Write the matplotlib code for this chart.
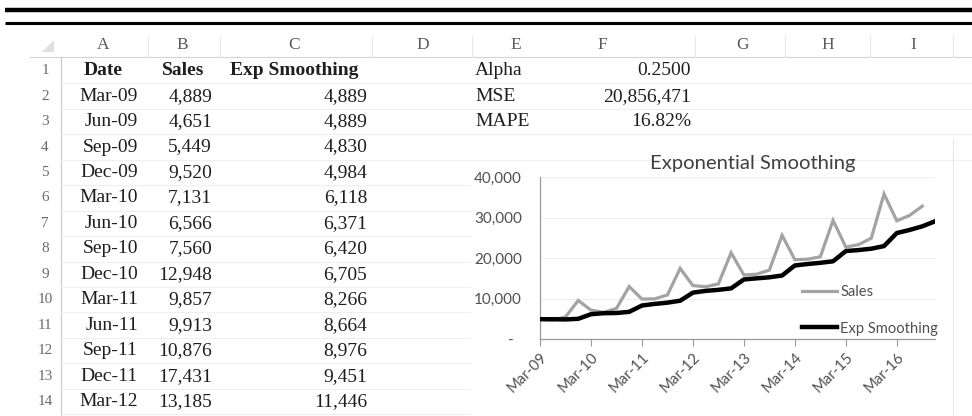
import matplotlib
matplotlib.use("Agg")
import matplotlib.pyplot as plt
from matplotlib.patches import Polygon

# quarterly sales with the exponential smoothing forecast (alpha = 0.25)
dates = ['Mar-09', 'Jun-09', 'Sep-09', 'Dec-09', 'Mar-10', 'Jun-10', 'Sep-10', 'Dec-10',
         'Mar-11', 'Jun-11', 'Sep-11', 'Dec-11', 'Mar-12', 'Jun-12', 'Sep-12', 'Dec-12',
         'Mar-13', 'Jun-13', 'Sep-13', 'Dec-13', 'Mar-14', 'Jun-14', 'Sep-14', 'Dec-14',
         'Mar-15', 'Jun-15', 'Sep-15', 'Dec-15', 'Mar-16', 'Jun-16', 'Sep-16', 'Dec-16']
sales = [4889, 4651, 5449, 9520, 7131, 6566, 7560, 12948,
         9857, 9913, 10876, 17431, 13185, 12900, 13600, 21300,
         15800, 16000, 17000, 25600, 19600, 19700, 20300, 29300,
         22700, 23300, 24900, 35800, 29200, 30500, 32800]
exp_smoothing = [4889, 4889, 4830, 4984, 6118, 6371, 6420, 6705,
                 8266, 8664, 8976, 9451, 11446, 11881, 12136, 12502,
                 14701, 14976, 15232, 15674, 18156, 18517, 18812, 19184,
                 21713, 21960, 22295, 22946, 26160, 26920, 27815, 29061]

alpha = 0.25
mse = 20856471
mape = 16.82

columns = ['A', 'B', 'C', 'D', 'E', 'F', 'G', 'H', 'I']
col_centers = [103, 182, 294, 423, 516, 602, 742, 828, 913]
n_table_rows = 13

serif = 'Liberation Serif'
sans = 'Lato'
ink = '#1e1e1e'
chart_ink = '#505050'
cell_size = 14

fig = plt.figure(figsize=(9.72, 4.16), dpi=100)

# sheet layer in pixel coordinates
bg = fig.add_axes([0, 0, 1, 1])
bg.set_xlim(0, 972)
bg.set_ylim(416, 0)
bg.axis('off')

bg.plot([5, 972], [9.5, 9.5], color='black', lw=3.2, solid_capstyle='butt')
bg.plot([5, 972], [22.5, 22.5], color='black', lw=2.2, solid_capstyle='butt')

row_y = [70.7 + i * 25.45 for i in range(n_table_rows + 1)]

# faint cell grid
bg.plot([30, 972], [57, 57], color='#d4d4d4', lw=0.8)
bg.plot([61, 61], [57, 416], color='#c8c8c8', lw=0.8)
for y in row_y:
    bg.plot([61, 470], [y + 12.7, y + 12.7], color='#efefef', lw=0.8)
for y in row_y[:4]:
    bg.plot([470, 972], [y + 12.7, y + 12.7], color='#efefef', lw=0.8)
for x in [148, 220, 372, 472, 695, 785, 870, 953]:
    bg.plot([x, x], [36, 57], color='#e8e8e8', lw=0.8)
bg.plot([953, 953], [140, 416], color='#e6e6e6', lw=0.8)
bg.add_patch(Polygon([[42, 52], [54, 40], [54, 52]], closed=True,
                     color='#e0e0e0', lw=0))

for letter, cx in zip(columns, col_centers):
    bg.text(cx, 45, letter, family=serif, fontsize=12.5, color='#5a5a5a',
            ha='center', va='center')
for i, y in enumerate(row_y):
    bg.text(45, y, str(i + 1), family=serif, fontsize=11, color='#6a6a6a',
            ha='center', va='center')

bg.text(103, row_y[0], 'Date', family=serif, fontsize=cell_size, weight='bold',
        color=ink, ha='center', va='center')
bg.text(183, row_y[0], 'Sales', family=serif, fontsize=cell_size, weight='bold',
        color=ink, ha='center', va='center')
bg.text(294, row_y[0], 'Exp Smoothing', family=serif, fontsize=cell_size,
        weight='bold', color=ink, ha='center', va='center')

for i in range(n_table_rows):
    y = row_y[i + 1]
    bg.text(138, y, dates[i], family=serif, fontsize=cell_size, color=ink,
            ha='right', va='center')
    bg.text(212, y, f'{sales[i]:,}', family=serif, fontsize=cell_size, color=ink,
            ha='right', va='center')
    bg.text(367, y, f'{exp_smoothing[i]:,}', family=serif, fontsize=cell_size,
            color=ink, ha='right', va='center')

stats = [('Alpha', f'{alpha:.4f}'), ('MSE', f'{mse:,}'), ('MAPE', f'{mape:.2f}%')]
for (name, val), y in zip(stats, row_y[:3]):
    bg.text(475, y, name, family=serif, fontsize=cell_size, color=ink,
            ha='left', va='center')
    bg.text(691, y, val, family=serif, fontsize=cell_size, color=ink,
            ha='right', va='center')

# embedded line chart
ax = fig.add_axes([540 / 972, 1 - 339 / 416, (935 - 540) / 972, (339 - 177) / 416])
ax.set_facecolor('none')
ax.plot(range(len(sales)), sales, color='#a3a3a3', lw=2.3, label='Sales',
        solid_joinstyle='miter', zorder=2)
ax.plot(range(len(exp_smoothing)), exp_smoothing, color='black', lw=3.2,
        label='Exp Smoothing', solid_joinstyle='round', zorder=3)
ax.set_xlim(0, len(exp_smoothing) - 1)
ax.set_ylim(0, 40000)

ax.set_yticks([0, 10000, 20000, 30000, 40000])
ax.set_yticklabels(['-  ', '10,000', '20,000', '30,000', '40,000'])
ax.tick_params(axis='y', length=0, pad=13, labelsize=11, labelcolor=chart_ink)
for t in ax.get_yticklabels():
    t.set_family(sans)
ax.yaxis.grid(True, color='#eeeeee', lw=0.8)
ax.set_axisbelow(True)

tick_pos = list(range(0, len(exp_smoothing), 4))
ax.set_xticks(tick_pos)
ax.set_xticklabels([dates[i] for i in tick_pos], rotation=45, ha='right',
                   va='top', rotation_mode='anchor', family=sans)
ax.tick_params(axis='x', length=5, width=0.8, color='#9a9a9a', pad=3,
               labelsize=10.8, labelcolor=chart_ink)

for side in ['top', 'right']:
    ax.spines[side].set_visible(False)
for side in ['left', 'bottom']:
    ax.spines[side].set_color('#9a9a9a')
    ax.spines[side].set_linewidth(0.9)

fig.text(753 / 972, 1 - 163 / 416, 'Exponential Smoothing', family=sans,
         fontsize=14.6, color='#404040', ha='center', va='center')

leg = fig.legend(loc='upper left', bbox_to_anchor=(802 / 972, 1 - 285.5 / 416),
                 frameon=False, prop={'family': sans, 'size': 10.6},
                 handlelength=2.4, handletextpad=0.2, labelspacing=1.5,
                 borderpad=0, borderaxespad=0)
for t in leg.get_texts():
    t.set_color(chart_ink)

fig.savefig('out.png', dpi=100, facecolor='white')
